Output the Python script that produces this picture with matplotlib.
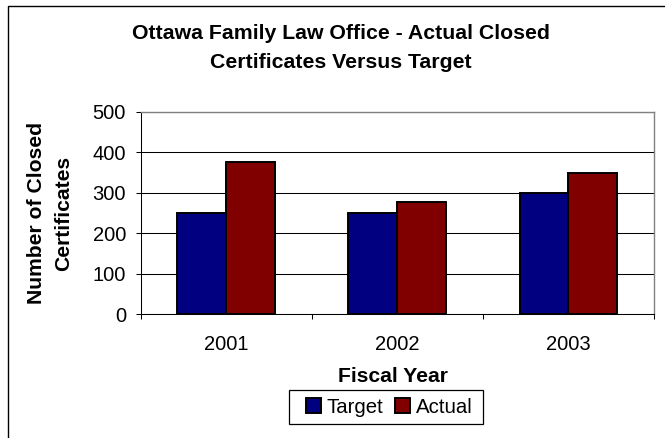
import numpy as np
import matplotlib
matplotlib.use('Agg')
import matplotlib.pyplot as plt
from matplotlib.patches import Rectangle

plt.rcParams['font.family'] = ['Liberation Sans', 'DejaVu Sans']

# Datos
anios = ['2001', '2002', '2003']
meta = [250, 250, 300]
real = [375, 277, 348]
series = ['Target', 'Actual']
colores = ['#000080', '#800000']
ticks_y = [0, 100, 200, 300, 400, 500]

W, H = 665, 438
fig = plt.figure(figsize=(W / 100, H / 100), dpi=100)

# Ejes en coordenadas de pixel medidas
izq, der, arriba, abajo = 140.7, 654, 111.7, 314
ax = fig.add_axes([izq / W, 1 - abajo / H, (der - izq) / W, (abajo - arriba) / H])

x = np.arange(len(anios))
ancho = 1 / 3.5
ax.bar(x - ancho / 2, meta, ancho, color=colores[0], edgecolor='black', linewidth=1.4, label=series[0], zorder=3)
ax.bar(x + ancho / 2, real, ancho, color=colores[1], edgecolor='black', linewidth=1.4, label=series[1], zorder=3)

ax.set_xlim(-0.5, len(anios) - 0.5)
ax.set_ylim(0, 500)
ax.set_yticks(ticks_y)
ax.set_xticks(x)
ax.set_xticklabels(anios)
ax.set_xticks(np.arange(len(anios) + 1) - 0.5, minor=True)

ax.tick_params(axis='y', direction='out', length=3.6, width=0.75, pad=7, labelsize=14.5, color='black')
ax.tick_params(axis='x', which='major', length=0, pad=15, labelsize=14.5)
ax.tick_params(axis='x', which='minor', direction='out', length=3.6, width=0.75, color='black')

ax.set_axisbelow(True)
ax.yaxis.grid(True, color='black', linewidth=0.75)

for lado in ['top', 'right']:
    ax.spines[lado].set_color('#808080')
    ax.spines[lado].set_linewidth(1.0)
for lado in ['left', 'bottom']:
    ax.spines[lado].set_color('black')
    ax.spines[lado].set_linewidth(0.75)

# Titulo en dos lineas
fig.text(340.5 / W, 1 - 39.3 / H, 'Ottawa Family Law Office - Actual Closed',
         ha='center', va='baseline', fontsize=15.3, fontweight='bold')
fig.text(340.5 / W, 1 - 67.7 / H, 'Certificates Versus Target',
         ha='center', va='baseline', fontsize=15.3, fontweight='bold')

# Titulos de ejes
fig.text(50 / W, 1 - 213 / H, 'Number of Closed\nCertificates', rotation=90,
         ha='center', va='center', multialignment='center', linespacing=1.55,
         fontsize=15.2, fontweight='bold')
fig.text(392.5 / W, 1 - 381.7 / H, 'Fiscal Year', ha='center', va='baseline',
         fontsize=15.2, fontweight='bold')

# Leyenda
leg = fig.legend(loc='center left', bbox_to_anchor=(289.3 / W, 1 - 407.2 / H),
                 bbox_transform=fig.transFigure, ncol=2, frameon=False,
                 fontsize=14.7, handlelength=0.75, handleheight=0.7,
                 handletextpad=0.25, columnspacing=0.6, borderpad=0.3)
fig.add_artist(Rectangle((289.3 / W, 1 - 424.3 / H), 194 / W, 34.3 / H,
                         transform=fig.transFigure, fill=False, ec='black', lw=0.9))

# Marco del area del grafico
fig.add_artist(Rectangle((8 / W, -0.2), 1.2, 1.2 - 5.5 / H, transform=fig.transFigure,
                         fill=False, ec='black', lw=1.0))

fig.savefig('out.png', dpi=100)
